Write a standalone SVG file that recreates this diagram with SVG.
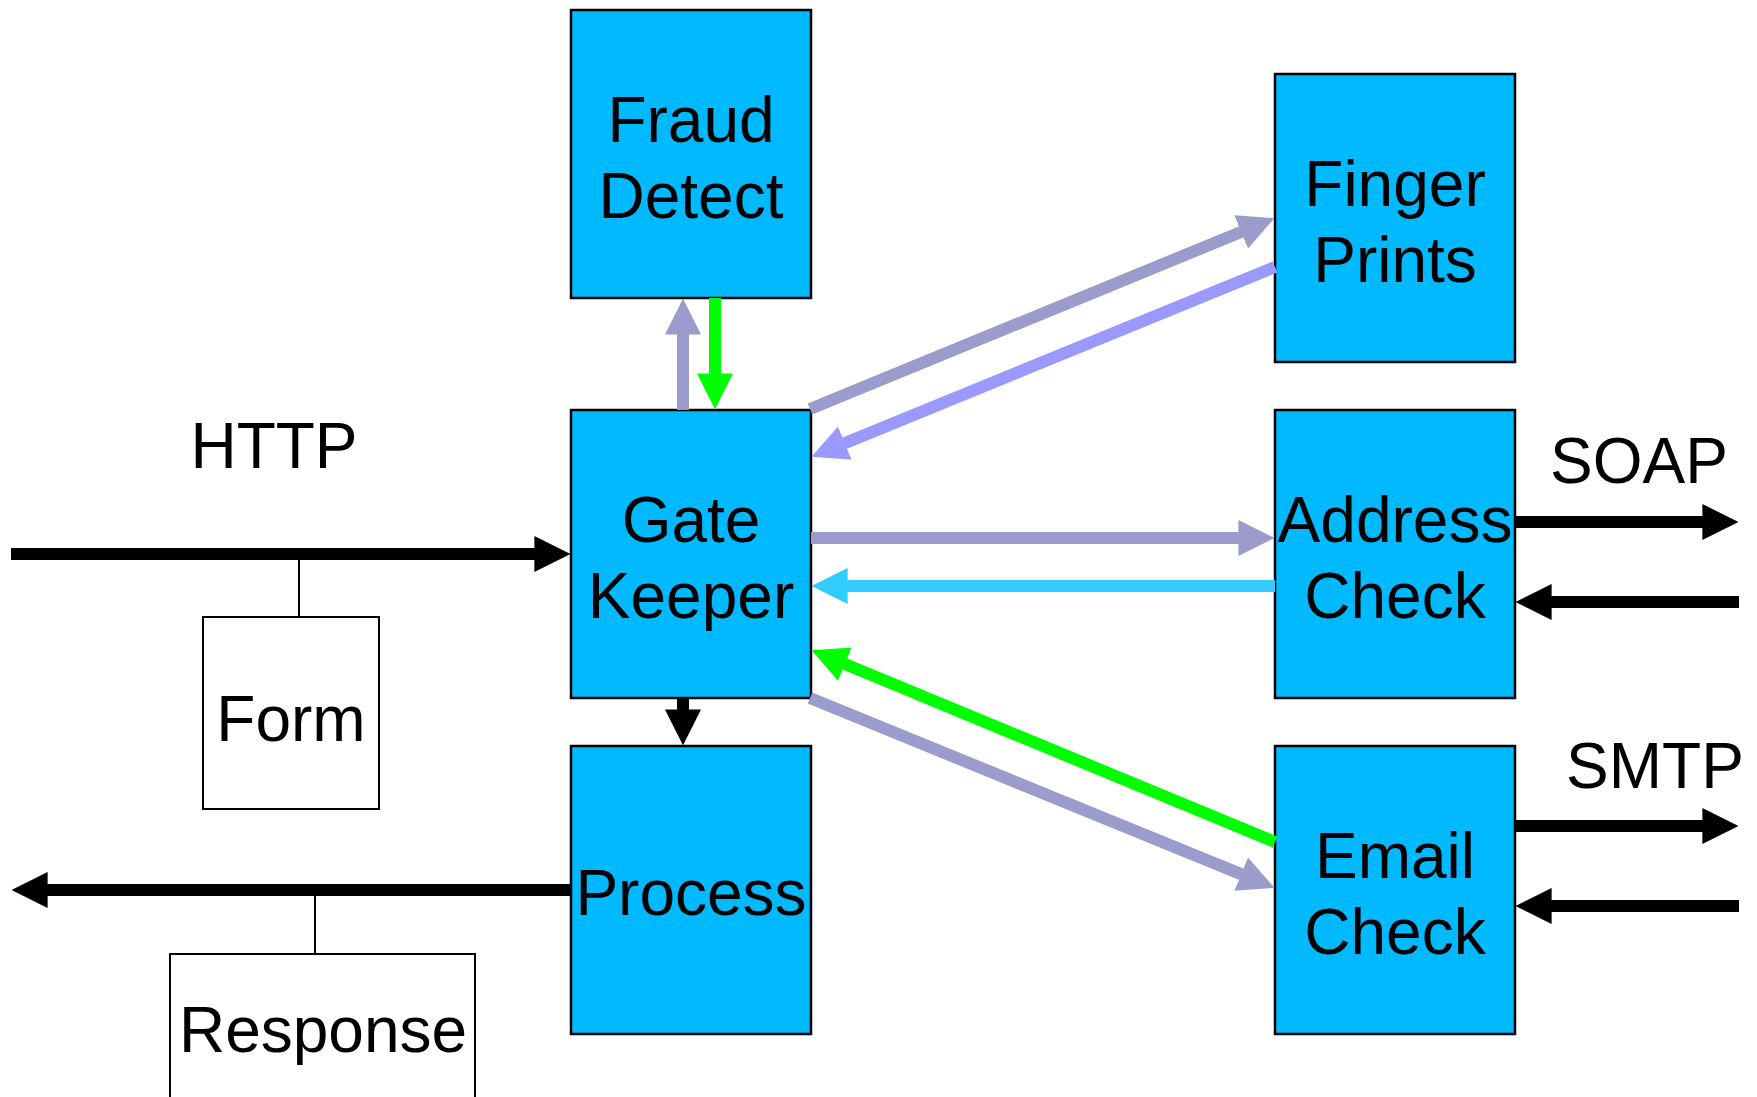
<svg xmlns="http://www.w3.org/2000/svg" width="1757" height="1097" viewBox="0 0 1757 1097">
<style>
.box{fill:#00B9FF;stroke:#000;stroke-width:2.5}
.wbox{fill:#fff;stroke:#000;stroke-width:2}
.t{font-family:"Liberation Sans",Arial,sans-serif;font-size:64px;fill:#000;text-anchor:middle}
.c{fill:none;stroke-width:12;stroke-linecap:butt}
.thin{fill:none;stroke:#000;stroke-width:2}
</style>
<defs>
<marker id="mBlack" viewBox="0 0 3 3" markerWidth="3" markerHeight="3" refX="0.05" refY="1.5" orient="auto" markerUnits="strokeWidth"><path d="M0,0 L3,1.5 L0,3 z" fill="#000"/></marker>
<marker id="mPurple" viewBox="0 0 3 3" markerWidth="3" markerHeight="3" refX="0.05" refY="1.5" orient="auto" markerUnits="strokeWidth"><path d="M0,0 L3,1.5 L0,3 z" fill="#9B9BCC"/></marker>
<marker id="mLav" viewBox="0 0 3 3" markerWidth="3" markerHeight="3" refX="0.05" refY="1.5" orient="auto" markerUnits="strokeWidth"><path d="M0,0 L3,1.5 L0,3 z" fill="#9999FF"/></marker>
<marker id="mCyan" viewBox="0 0 3 3" markerWidth="3" markerHeight="3" refX="0.05" refY="1.5" orient="auto" markerUnits="strokeWidth"><path d="M0,0 L3,1.5 L0,3 z" fill="#33CCFF"/></marker>
<marker id="mGreen" viewBox="0 0 3 3" markerWidth="3" markerHeight="3" refX="0.05" refY="1.5" orient="auto" markerUnits="strokeWidth"><path d="M0,0 L3,1.5 L0,3 z" fill="#00FF00"/></marker>
</defs>
<rect width="1757" height="1097" fill="#fff"/>

<g id="fraud-detect">
<rect class="box" x="571" y="10" width="240" height="288"/>
<text class="t" x="691" y="142">Fraud</text>
<text class="t" x="691" y="218">Detect</text>
</g>
<g id="gate-keeper">
<rect class="box" x="571" y="410" width="240" height="288"/>
<text class="t" x="691" y="542">Gate</text>
<text class="t" x="691" y="618">Keeper</text>
</g>
<g id="process">
<rect class="box" x="571" y="746" width="240" height="288"/>
<text class="t" x="691" y="915">Process</text>
</g>
<g id="finger-prints">
<rect class="box" x="1275" y="74" width="240" height="288"/>
<text class="t" x="1395" y="206">Finger</text>
<text class="t" x="1395" y="282">Prints</text>
</g>
<g id="address-check">
<rect class="box" x="1275" y="410" width="240" height="288"/>
<text class="t" x="1395" y="542">Address</text>
<text class="t" x="1395" y="618">Check</text>
</g>
<g id="email-check">
<rect class="box" x="1275" y="746" width="240" height="288"/>
<text class="t" x="1395" y="878">Email</text>
<text class="t" x="1395" y="954">Check</text>
</g>
<g id="form">
<rect class="wbox" x="203" y="617" width="176" height="192"/>
<text class="t" x="291" y="741">Form</text>
</g>
<g id="response">
<rect class="wbox" x="170" y="954" width="305" height="170"/>
<text class="t" x="323" y="1052">Response</text>
</g>
<g id="labels">
<text class="t" x="274" y="468">HTTP</text>
<text class="t" x="1639" y="483">SOAP</text>
<text class="t" x="1655" y="788">SMTP</text>
</g>

<g id="connectors">
<line class="thin" x1="299" y1="554" x2="299" y2="617"/>
<line class="thin" x1="315" y1="890" x2="315" y2="954"/>
<line class="c" stroke="#000" x1="11" y1="554" x2="535" y2="554" marker-end="url(#mBlack)"/>
<line class="c" stroke="#000" x1="571" y1="890" x2="47" y2="890" marker-end="url(#mBlack)"/>
<line class="c" stroke="#000" x1="1515" y1="522" x2="1703" y2="522" marker-end="url(#mBlack)"/>
<line class="c" stroke="#000" x1="1739" y1="602" x2="1551" y2="602" marker-end="url(#mBlack)"/>
<line class="c" stroke="#000" x1="1515" y1="826" x2="1703" y2="826" marker-end="url(#mBlack)"/>
<line class="c" stroke="#000" x1="1739" y1="906" x2="1551" y2="906" marker-end="url(#mBlack)"/>
<line class="c" stroke="#000" x1="683" y1="698" x2="683" y2="710" marker-end="url(#mBlack)"/>
<line class="c" stroke="#9B9BCC" x1="683" y1="410" x2="683" y2="334" marker-end="url(#mPurple)"/>
<line class="c" stroke="#00FF00" x1="715" y1="298" x2="715" y2="374" marker-end="url(#mGreen)"/>
<line class="c" stroke="#9B9BCC" x1="811" y1="538" x2="1239" y2="538" marker-end="url(#mPurple)"/>
<line class="c" stroke="#33CCFF" x1="1275" y1="586" x2="847" y2="586" marker-end="url(#mCyan)"/>
<line class="c" stroke="#9B9BCC" x1="810" y1="409" x2="1241.7" y2="231.7" marker-end="url(#mPurple)"/>
<line class="c" stroke="#9999FF" x1="1275" y1="267" x2="844.3" y2="443.4" marker-end="url(#mLav)"/>
<line class="c" stroke="#00FF00" x1="1275" y1="842" x2="844.3" y2="663.8" marker-end="url(#mGreen)"/>
<line class="c" stroke="#9B9BCC" x1="810" y1="698" x2="1241.7" y2="874.4" marker-end="url(#mPurple)"/>
</g>
</svg>
